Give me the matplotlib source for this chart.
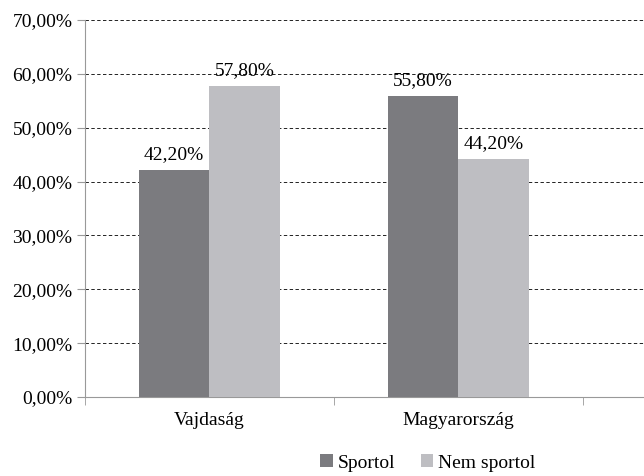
import numpy as np
import matplotlib.pyplot as plt
from matplotlib.ticker import FuncFormatter

# data
categories = ["Vajdaság", "Magyarország"]
sportol = [42.2, 55.8]
nem_sportol = [57.8, 44.2]
series_names = ["Sportol", "Nem sportol"]

plt.rcParams['font.family'] = ['Liberation Serif', 'DejaVu Serif']
fs = 14

fig = plt.figure(figsize=(6.44, 4.76), dpi=100)
ax = fig.add_axes([85/644, 1 - 397/476, 1 - 85/644, 377/476])

x = np.arange(len(categories))
w = 0.285
dark = '#7b7b7f'
light = '#bebec2'
b1 = ax.bar(x - w/2, sportol, w, color=dark, label=series_names[0], zorder=3)
b2 = ax.bar(x + w/2, nem_sportol, w, color=light, label=series_names[1], zorder=3)

def pct(v):
    return f"{v:.2f}".replace('.', ',') + '%'

for bars, vals in [(b1, sportol), (b2, nem_sportol)]:
    for r, v in zip(bars, vals):
        ax.text(r.get_x() + r.get_width()/2, v + 1.3, pct(v), ha='center', va='bottom', fontsize=fs)

ax.set_ylim(0, 70)
ax.set_yticks(np.arange(0, 71, 10))
ax.yaxis.set_major_formatter(FuncFormatter(lambda v, p: pct(v)))
ax.set_xlim(-0.5, 1.745)
ax.set_xticks(x)
ax.set_xticklabels(categories)
ax.set_xticks([-0.5, 0.5, 1.5], minor=True)
ax.tick_params(axis='x', which='major', length=0, pad=11, labelsize=fs)
ax.tick_params(axis='x', which='minor', length=6, color='#999999', direction='out')
ax.tick_params(axis='y', length=6, color='#999999', labelsize=fs, pad=3)

ax.grid(axis='y', color='#222222', linestyle=(0, (3.5, 2.5)), linewidth=0.7, zorder=0)
for s in ['top', 'right']:
    ax.spines[s].set_visible(False)
ax.spines['left'].set_color('#999999')
ax.spines['bottom'].set_color('#999999')
ax.spines['left'].set_zorder(4)

fig.legend(loc='center', bbox_to_anchor=(428/644, 1 - 463/476), ncol=2, frameon=False,
           fontsize=fs, handlelength=0.65, handleheight=0.65, handletextpad=0.25, columnspacing=1.3)

fig.savefig('out.png', dpi=100)
